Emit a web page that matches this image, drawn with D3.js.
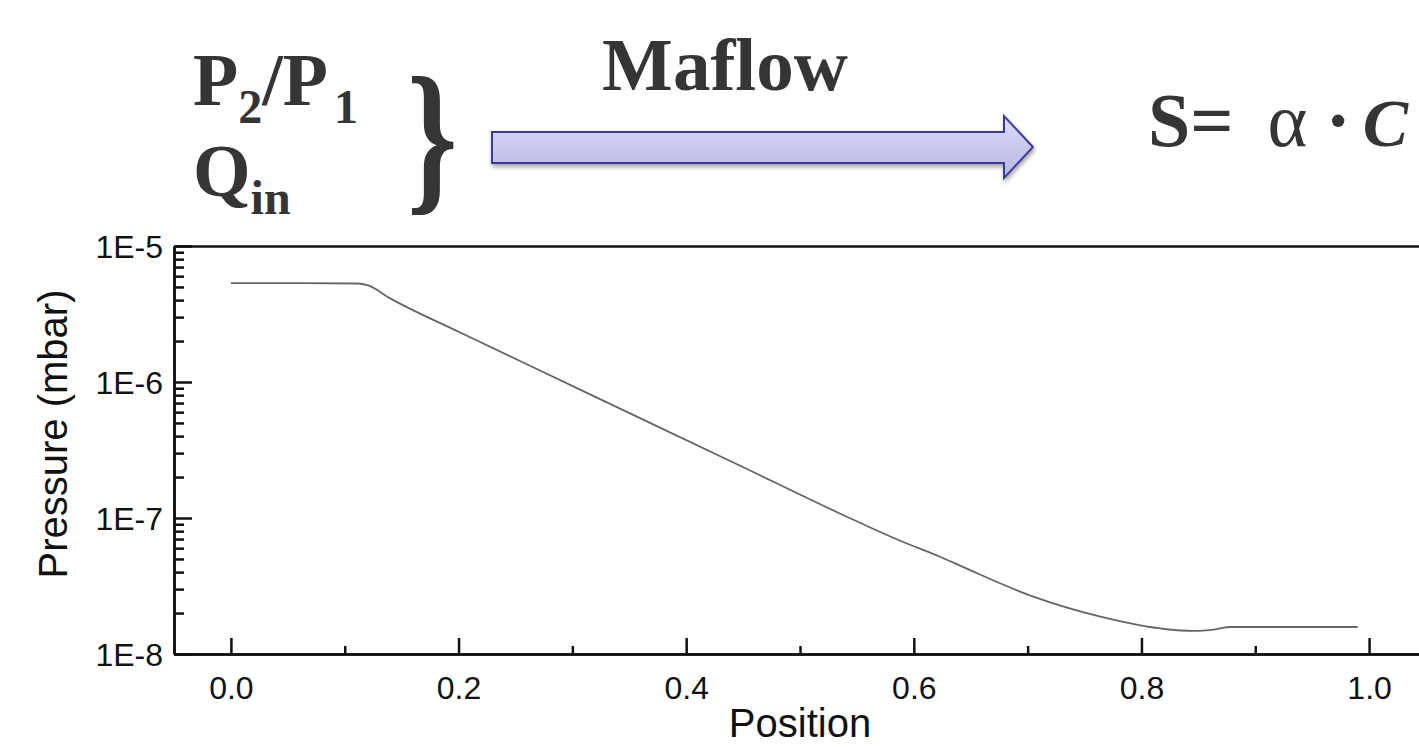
<!DOCTYPE html>
<html>
<head>
<meta charset="utf-8">
<script src="https://cdn.jsdelivr.net/npm/d3@7"></script>
<style>
  body { margin: 0; background: #fff; overflow: hidden; }
  svg { display: block; }
</style>
</head>
<body>
<div id="wrapper"></div>
<script>
// curve
const position = [0, 0.05, 0.111, 0.120, 0.140, 0.201, 0.272, 0.359, 0.447, 0.535, 0.588, 0.623, 0.646, 0.705, 0.764, 0.822, 0.845, 0.865, 0.878, 0.93, 0.99];
const pressure = [5.34e-6, 5.33e-6, 5.3e-6, 5.16e-6, 4.12e-6, 2.32e-6, 1.21e-6, 5.45e-7, 2.43e-7, 1.08e-7, 6.8e-8, 5.19e-8, 4.26e-8, 2.64e-8, 1.88e-8, 1.52e-8, 1.48e-8, 1.52e-8, 1.58e-8, 1.58e-8, 1.58e-8];

const xMajor = [0.0, 0.2, 0.4, 0.6, 0.8, 1.0];
const xMinor = [0.1, 0.3, 0.5, 0.7, 0.9];
const yMajor = [1e-8, 1e-7, 1e-6, 1e-5];
const yLabels = ["1E-8", "1E-7", "1E-6", "1E-5"];

function build() {
    var dimension = {
        width: 1419,
        height: 747,
        margin: { top: 246, left: 174, bottom: 93 }
    };
    dimension.plotBottom = dimension.height - dimension.margin.bottom;

    const wrapper = d3.select("#wrapper")
        .append("svg")
        .attr("width", dimension.width)
        .attr("height", dimension.height);

    const defs = wrapper.append("defs");
    const grad = defs.append("linearGradient")
        .attr("id", "arrowFill")
        .attr("x1", 0).attr("y1", 0).attr("x2", 0).attr("y2", 1);
    grad.append("stop").attr("offset", "0%").attr("stop-color", "#dcdcf6");
    grad.append("stop").attr("offset", "100%").attr("stop-color", "#b6b6e6");
    const shadow = defs.append("filter").attr("id", "shadow")
        .attr("x", "-5%").attr("y", "-30%").attr("width", "110%").attr("height", "170%");
    shadow.append("feDropShadow")
        .attr("dx", 1).attr("dy", 3).attr("stdDeviation", 2)
        .attr("flood-color", "#000").attr("flood-opacity", 0.35);

    // scales
    const x = d3.scaleLinear()
        .domain([-0.05, 1.05])
        .range([dimension.margin.left, 1426]);
    const y = d3.scaleLog()
        .domain([1e-8, 1e-5])
        .range([dimension.plotBottom, dimension.margin.top]);

    // minor log ticks 2..9 per decade
    var yMinor = [];
    for (let e = -8; e < -5; e++) {
        for (let m = 2; m <= 9; m++) yMinor.push(m * Math.pow(10, e));
    }

    const axisStyle = g => {
        g.select(".domain").attr("stroke", "#111").attr("stroke-width", 2.5);
        g.selectAll(".tick line").attr("stroke", "#111").attr("stroke-width", 2.5);
    };

    // bottom axis, ticks pointing up into the plot
    wrapper.append("g")
        .attr("transform", `translate(0,${dimension.plotBottom})`)
        .call(d3.axisBottom(x).tickValues(xMinor).tickSize(-8).tickFormat("").tickSizeOuter(0))
        .call(axisStyle);
    wrapper.append("g")
        .attr("transform", `translate(0,${dimension.plotBottom})`)
        .call(d3.axisBottom(x).tickValues(xMajor).tickSize(-16).tickSizeOuter(0).tickFormat(d3.format(".1f")))
        .call(axisStyle)
        .call(g => g.selectAll(".tick text")
            .attr("y", 45).attr("dy", 0)
            .attr("font-family", "Liberation Sans, Arial, sans-serif")
            .attr("font-size", 32).attr("fill", "#111"));

    // top frame line
    wrapper.append("g")
        .attr("transform", `translate(0,${dimension.margin.top})`)
        .call(d3.axisTop(x).tickValues([]).tickSizeOuter(0))
        .call(axisStyle);

    // left axis, ticks pointing right
    wrapper.append("g")
        .attr("transform", `translate(${dimension.margin.left},0)`)
        .call(d3.axisLeft(y).tickValues(yMinor).tickSize(-10).tickFormat("").tickSizeOuter(0))
        .call(axisStyle);
    wrapper.append("g")
        .attr("transform", `translate(${dimension.margin.left},0)`)
        .call(d3.axisLeft(y).tickValues(yMajor).tickSize(-18).tickSizeOuter(0)
            .tickFormat((d, i) => yLabels[i]))
        .call(axisStyle)
        .call(g => g.selectAll(".tick text")
            .attr("x", -11).attr("dy", "0.36em")
            .attr("font-family", "Liberation Sans, Arial, sans-serif")
            .attr("font-size", 32).attr("fill", "#111"));

    // axis titles
    wrapper.append("text")
        .attr("x", x(0.5))
        .attr("y", 737)
        .attr("text-anchor", "middle")
        .attr("font-family", "Liberation Sans, Arial, sans-serif")
        .attr("font-size", 40)
        .attr("fill", "#111")
        .text("Position");
    wrapper.append("text")
        .attr("transform", "translate(67,434) rotate(-90)")
        .attr("text-anchor", "middle")
        .attr("font-family", "Liberation Sans, Arial, sans-serif")
        .attr("font-size", 40)
        .attr("fill", "#111")
        .text("Pressure (mbar)");

    // the curve
    const data = position.map((p, i) => ({ p: p, v: pressure[i] }));
    const line = d3.line()
        .x(d => x(d.p))
        .y(d => y(d.v))
        .curve(d3.curveMonotoneX);
    wrapper.append("path")
        .datum(data)
        .attr("d", line)
        .attr("fill", "none")
        .attr("stroke", "#666")
        .attr("stroke-width", 1.8);

    // header annotations
    const serif = "Liberation Serif, Times New Roman, serif";
    const ink = "#353535";

    const ratio = wrapper.append("text")
        .attr("x", 193).attr("y", 105)
        .attr("font-family", serif).attr("font-weight", "bold")
        .attr("font-size", 74).attr("fill", ink);
    ratio.append("tspan").text("P");
    ratio.append("tspan").attr("font-size", 48).attr("dy", 18).text("2");
    ratio.append("tspan").attr("dy", -18).text("/P");
    ratio.append("tspan").attr("font-size", 48).attr("dy", 18).attr("dx", 6).text("1");

    const qin = wrapper.append("text")
        .attr("x", 193).attr("y", 196)
        .attr("font-family", serif).attr("font-weight", "bold")
        .attr("font-size", 74).attr("fill", ink);
    qin.append("tspan").text("Q");
    qin.append("tspan").attr("font-size", 48).attr("dy", 18).text("in");

    wrapper.append("text")
        .attr("transform", "translate(407,192) scale(0.8,1.05)")
        .attr("font-family", serif).attr("font-weight", "bold")
        .attr("font-size", 160).attr("fill", ink)
        .text("}");

    wrapper.append("text")
        .attr("x", 725).attr("y", 90)
        .attr("text-anchor", "middle")
        .attr("font-family", serif).attr("font-weight", "bold")
        .attr("font-size", 75).attr("fill", ink)
        .text("Maflow");

    // block arrow
    const arrow = d3.path();
    arrow.moveTo(492, 132);
    arrow.lineTo(1004, 132);
    arrow.lineTo(1004, 116);
    arrow.lineTo(1033, 147);
    arrow.lineTo(1004, 178);
    arrow.lineTo(1004, 163);
    arrow.lineTo(492, 163);
    arrow.closePath();
    wrapper.append("path")
        .attr("d", arrow.toString())
        .attr("fill", "url(#arrowFill)")
        .attr("stroke", "#3b3b9c")
        .attr("stroke-width", 2)
        .attr("stroke-linejoin", "miter")
        .attr("filter", "url(#shadow)");

    const formula = wrapper.append("text")
        .attr("x", 1148).attr("y", 146)
        .attr("font-family", serif)
        .attr("font-size", 76).attr("fill", ink);
    formula.append("tspan").attr("font-weight", "bold").text("S");
    formula.append("tspan").attr("font-weight", "bold").text("=");
    formula.append("tspan").attr("dx", 34).text("α");
    formula.append("tspan").attr("dx", 18).attr("font-weight", "bold").text("·");
    formula.append("tspan").attr("dx", 12).attr("font-size", 68)
        .attr("font-weight", "bold").attr("font-style", "italic").text("C");
}

build();
</script>
</body>
</html>
